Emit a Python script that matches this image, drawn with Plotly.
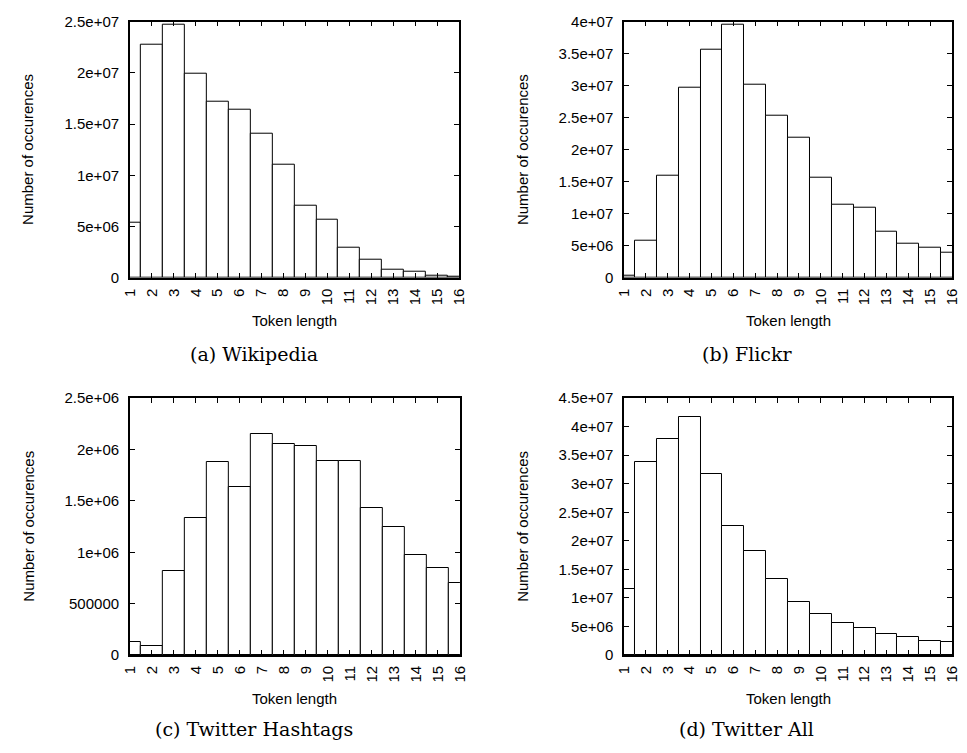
import plotly.graph_objects as go
from plotly.subplots import make_subplots

# ---- data ----
token_lengths = list(range(1, 17))

wikipedia = [5.4e6, 2.28e7, 2.47e7, 1.99e7, 1.72e7, 1.637e7, 1.41e7, 1.104e7,
             7.07e6, 5.7e6, 2.91e6, 1.74e6, 8.2e5, 5.7e5, 1.9e5, 1.0e5]
flickr = [4e5, 5.74e6, 1.6e7, 2.97e7, 3.57e7, 3.96e7, 3.015e7, 2.528e7,
          2.188e7, 1.563e7, 1.142e7, 1.091e7, 7.26e6, 5.28e6, 4.77e6, 3.91e6]
twitter_hashtags = [1.24e5, 9.2e4, 8.13e5, 1.337e6, 1.874e6, 1.636e6, 2.154e6, 2.052e6,
                    2.03e6, 1.89e6, 1.884e6, 1.429e6, 1.248e6, 9.75e5, 8.42e5, 7.05e5]
twitter_all = [1.161e7, 3.373e7, 3.774e7, 4.168e7, 3.162e7, 2.264e7, 1.818e7, 1.326e7,
               9.26e6, 7.26e6, 5.55e6, 4.69e6, 3.66e6, 3.14e6, 2.46e6, 2.29e6]

captions = ["(a) Wikipedia", "(b) Flickr", "(c) Twitter Hashtags", "(d) Twitter All"]

yt_a = [0, 5e6, 1e7, 1.5e7, 2e7, 2.5e7]
yl_a = ["0", "5e+06", "1e+07", "1.5e+07", "2e+07", "2.5e+07"]
yt_b = [0, 5e6, 1e7, 1.5e7, 2e7, 2.5e7, 3e7, 3.5e7, 4e7]
yl_b = ["0", "5e+06", "1e+07", "1.5e+07", "2e+07", "2.5e+07", "3e+07", "3.5e+07", "4e+07"]
yt_c = [0, 5e5, 1e6, 1.5e6, 2e6, 2.5e6]
yl_c = ["0", "500000", "1e+06", "1.5e+06", "2e+06", "2.5e+06"]
yt_d = [0, 5e6, 1e7, 1.5e7, 2e7, 2.5e7, 3e7, 3.5e7, 4e7, 4.5e7]
yl_d = ["0", "5e+06", "1e+07", "1.5e+07", "2e+07", "2.5e+07", "3e+07", "3.5e+07", "4e+07", "4.5e+07"]

x_tick_labels = [str(v) for v in token_lengths]

# ---- figure ----
W, H = 967, 753
fig = make_subplots(rows=2, cols=2)

series = [wikipedia, flickr, twitter_hashtags, twitter_all]
ticks = [(yt_a, yl_a), (yt_b, yl_b), (yt_c, yl_c), (yt_d, yl_d)]
# pixel boxes of each plot area: (left, right, top, bottom)
boxes = [(123, 458, 13, 275), (626, 960, 13, 275),
         (123, 459, 398, 661), (626, 960, 398, 661)]
caption_x = [249, 752, 249, 751]
caption_y = [353, 353, 737, 737]

sans = "Liberation Sans, Arial, sans-serif"
annotations = []
for i, vals in enumerate(series):
    r, c = i // 2 + 1, i % 2 + 1
    fig.add_trace(go.Bar(x=token_lengths, y=vals, width=1,
                         marker=dict(color="white", line=dict(color="black", width=1)),
                         showlegend=False), row=r, col=c)
    L, R, T, B = boxes[i]
    tv, tl = ticks[i]
    fig.update_xaxes(domain=[L / W, R / W], range=[1, 16],
                     tickvals=token_lengths, ticktext=x_tick_labels, tickangle=-90,
                     ticks="inside", ticklen=5, tickcolor="black", tickwidth=1,
                     showline=True, linecolor="black", linewidth=1.5, mirror="ticks",
                     showgrid=False, zeroline=False, ticklabelstandoff=3,
                     tickfont=dict(family=sans, size=15, color="black"),
                     row=r, col=c)
    ymax = tv[-1]
    fig.update_yaxes(domain=[1 - B / H, 1 - T / H], range=[0, ymax],
                     tickvals=tv, ticktext=tl,
                     ticks="inside", ticklen=5, tickcolor="black", tickwidth=1,
                     showline=True, linecolor="black", linewidth=1.5, mirror="ticks",
                     showgrid=False, zeroline=False, ticklabelstandoff=6,
                     tickfont=dict(family=sans, size=15, color="black"),
                     row=r, col=c)
    # axis titles
    annotations.append(dict(x=(L - 103.5) / W, y=1 - ((T + B) / 2) / H, xref="paper", yref="paper",
                            text="Number of occurences", textangle=-90, showarrow=False,
                            xanchor="center", yanchor="middle",
                            font=dict(family=sans, size=15, color="black")))
    annotations.append(dict(x=((L + R) / 2) / W, y=1 - (B + 44) / H, xref="paper", yref="paper",
                            text="Token length", showarrow=False,
                            xanchor="center", yanchor="middle",
                            font=dict(family=sans, size=15, color="black")))
    annotations.append(dict(x=caption_x[i] / W, y=1 - caption_y[i] / H, xref="paper", yref="paper",
                            text=captions[i], showarrow=False,
                            xanchor="center", yanchor="middle",
                            font=dict(family="DejaVu Serif, serif", size=19, color="black")))

fig.update_layout(width=W, height=H, margin=dict(l=0, r=0, t=0, b=0),
                  paper_bgcolor="white", plot_bgcolor="white",
                  bargap=0, annotations=annotations)

fig.write_html("out.html")
